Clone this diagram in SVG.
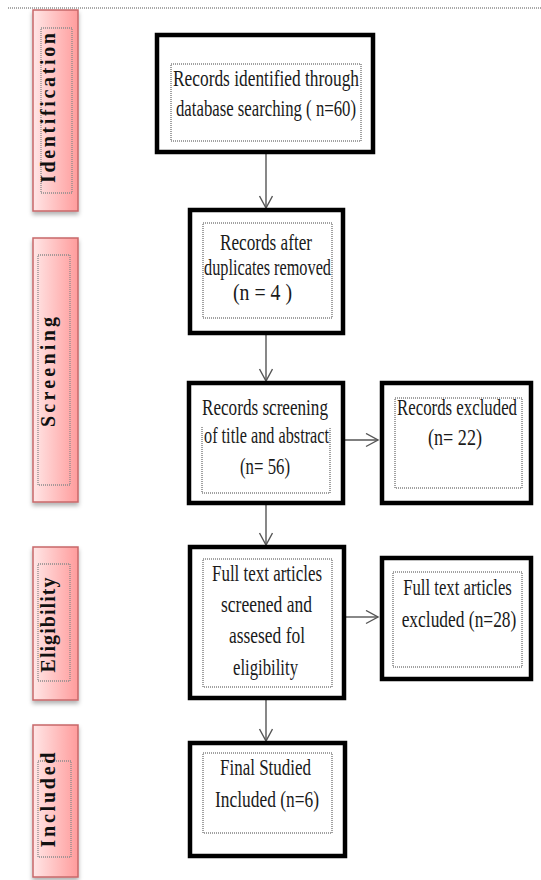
<svg xmlns="http://www.w3.org/2000/svg" width="541" height="880" viewBox="0 0 541 880">
<style>
.bar{fill:url(#pink);stroke:#c8686a;stroke-width:1.5;filter:url(#sh)}
.barin{fill:none;stroke:#8a8a8a;stroke-width:1.3;stroke-dasharray:1 1}
.bt{font-family:"Liberation Serif","Times New Roman",serif;font-weight:bold;font-size:20px;fill:#111;text-anchor:middle}
.box{fill:#fff;stroke:#000;stroke-width:4.5}
.dot{fill:none;stroke:#444;stroke-width:1;stroke-dasharray:1 1}
.t{font-family:"Liberation Serif","Times New Roman",serif;font-size:24px;fill:#1a1a1a;text-anchor:middle}
.ln{fill:none;stroke:#555;stroke-width:1.4}
</style>
<defs>
<linearGradient id="pink" x1="0" y1="0" x2="1" y2="0">
<stop offset="0" stop-color="#ffe6e6"/>
<stop offset="1" stop-color="#ff9c9c"/>
</linearGradient>
<filter id="sh" x="-30%" y="-10%" width="160%" height="120%">
<feDropShadow dx="0" dy="3" stdDeviation="2" flood-color="#000" flood-opacity="0.3"/>
</filter>
<marker id="ah" markerUnits="userSpaceOnUse" markerWidth="16" markerHeight="16" refX="13" refY="7" orient="auto">
<path d="M1,0.5 L13,7 L1,13.5" fill="none" stroke="#555" stroke-width="1.4"/>
</marker>
</defs>
<line x1="8" y1="8" x2="541" y2="8" stroke="#555" stroke-width="1.2" stroke-dasharray="1 1"/>

<g id="phase-identification">
<rect class="bar" x="33" y="10" width="45" height="201"/>
<rect class="barin" x="41" y="28" width="31" height="165"/>
<text class="bt" transform="translate(55,108) rotate(-90)" textLength="150" lengthAdjust="spacing">Identification</text>
</g>
<g id="phase-screening">
<rect class="bar" x="33" y="238" width="45" height="264"/>
<rect class="barin" x="38" y="255" width="32" height="230"/>
<text class="bt" transform="translate(55,372) rotate(-90)" textLength="110" lengthAdjust="spacing">Screening</text>
</g>
<g id="phase-eligibility">
<rect class="bar" x="33" y="547" width="45" height="153"/>
<rect class="barin" x="38" y="564" width="32" height="117"/>
<text class="bt" transform="translate(55,625) rotate(-90)" textLength="95" lengthAdjust="spacing">Eligibility</text>
</g>
<g id="phase-included">
<rect class="bar" x="33" y="725" width="45" height="152"/>
<rect class="barin" x="38" y="761" width="33" height="96"/>
<text class="bt" transform="translate(55,800) rotate(-90)" textLength="95" lengthAdjust="spacing">Included</text>
</g>

<g id="connectors">
<line class="ln" x1="266" y1="154" x2="266" y2="208" marker-end="url(#ah)"/>
<line class="ln" x1="266" y1="335" x2="266" y2="381" marker-end="url(#ah)"/>
<line class="ln" x1="266" y1="505" x2="266" y2="545" marker-end="url(#ah)"/>
<line class="ln" x1="266" y1="700" x2="266" y2="741" marker-end="url(#ah)"/>
<line class="ln" x1="345" y1="440" x2="378" y2="440" marker-end="url(#ah)"/>
<line class="ln" x1="346" y1="617" x2="378" y2="617" marker-end="url(#ah)"/>
</g>

<g id="node-identified">
<rect class="box" x="157" y="35" width="216" height="117"/>
<rect class="dot" x="171" y="64" width="190" height="77"/>
<text class="t" x="266" y="86" textLength="186" lengthAdjust="spacingAndGlyphs">Records identified through</text>
<text class="t" x="266" y="116" textLength="180" lengthAdjust="spacingAndGlyphs">database searching ( n=60)</text>
</g>
<g id="node-duplicates">
<rect class="box" x="190" y="210" width="153" height="123"/>
<rect class="dot" x="203" y="223" width="129" height="95"/>
<text class="t" x="266" y="250" textLength="92" lengthAdjust="spacingAndGlyphs">Records after</text>
<text class="t" x="267.5" y="275" textLength="127" lengthAdjust="spacingAndGlyphs">duplicates removed</text>
<text class="t" x="262.5" y="300" textLength="59" lengthAdjust="spacingAndGlyphs">(n = 4 )</text>
</g>
<g id="node-screening">
<rect class="box" x="189" y="383" width="154" height="120"/>
<path class="dot" d="M202,427 V493 H330 V427"/>
<text class="t" x="265" y="415" textLength="126" lengthAdjust="spacingAndGlyphs">Records screening</text>
<text class="t" x="266.5" y="443" textLength="125" lengthAdjust="spacingAndGlyphs">of title and abstract</text>
<text class="t" x="265" y="474" textLength="50" lengthAdjust="spacingAndGlyphs">(n= 56)</text>
</g>
<g id="node-excluded">
<rect class="box" x="382" y="383" width="149" height="120"/>
<rect class="dot" x="395" y="398" width="127" height="90"/>
<text class="t" transform="translate(457,415) scale(0.75,1)" x="0" y="0" textLength="160" lengthAdjust="spacingAndGlyphs">Records excluded</text>
<text class="t" transform="translate(455,445) scale(0.75,1)" x="0" y="0" textLength="72" lengthAdjust="spacingAndGlyphs">(n= 22)</text>
</g>
<g id="node-eligibility">
<rect class="box" x="190" y="547" width="154" height="151"/>
<rect class="dot" x="203" y="559" width="129" height="128"/>
<text class="t" x="267" y="581" textLength="110" lengthAdjust="spacingAndGlyphs">Full text articles</text>
<text class="t" x="266.5" y="612" textLength="91" lengthAdjust="spacingAndGlyphs">screened and</text>
<text class="t" x="267" y="643" textLength="76" lengthAdjust="spacingAndGlyphs">assesed fol</text>
<text class="t" x="265.5" y="675" textLength="65" lengthAdjust="spacingAndGlyphs">eligibility</text>
</g>
<g id="node-fulltext-excluded">
<rect class="box" x="382" y="558" width="149" height="121"/>
<rect class="dot" x="393" y="572" width="129" height="95"/>
<text class="t" transform="translate(457.5,595) scale(0.75,1)" x="0" y="0" textLength="145" lengthAdjust="spacingAndGlyphs">Full text articles</text>
<text class="t" transform="translate(459,627) scale(0.75,1)" x="0" y="0" textLength="153" lengthAdjust="spacingAndGlyphs">excluded (n=28)</text>
</g>
<g id="node-included">
<rect class="box" x="190" y="743" width="155" height="113"/>
<rect class="dot" x="203" y="753" width="129" height="80"/>
<text class="t" x="265.5" y="775" textLength="91" lengthAdjust="spacingAndGlyphs">Final Studied</text>
<text class="t" x="267" y="807" textLength="104" lengthAdjust="spacingAndGlyphs">Included (n=6)</text>
</g>
</svg>
